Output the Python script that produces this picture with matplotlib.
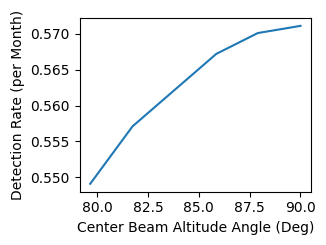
import matplotlib

matplotlib.use("Agg")
import matplotlib.pyplot as plt

# Center beam altitude angle (deg) and detection rate (per month)
angles = [79.66, 81.74, 85.86, 87.9, 90.0]
rates = [0.5491, 0.5571, 0.5672, 0.5701, 0.5711]

fig = plt.figure(figsize=(3.26, 2.45), dpi=100)
ax = fig.add_axes([0.2445, 0.2176, 0.7095, 0.709])
ax.plot(angles, rates, color="#1f77b4")
ax.set_xlabel("Center Beam Altitude Angle (Deg)")
ax.set_ylabel("Detection Rate (per Month)")
ax.set_xticks([80.0, 82.5, 85.0, 87.5, 90.0])
ax.set_yticks([0.550, 0.555, 0.560, 0.565, 0.570])
fig.savefig("out.png", dpi=100)
